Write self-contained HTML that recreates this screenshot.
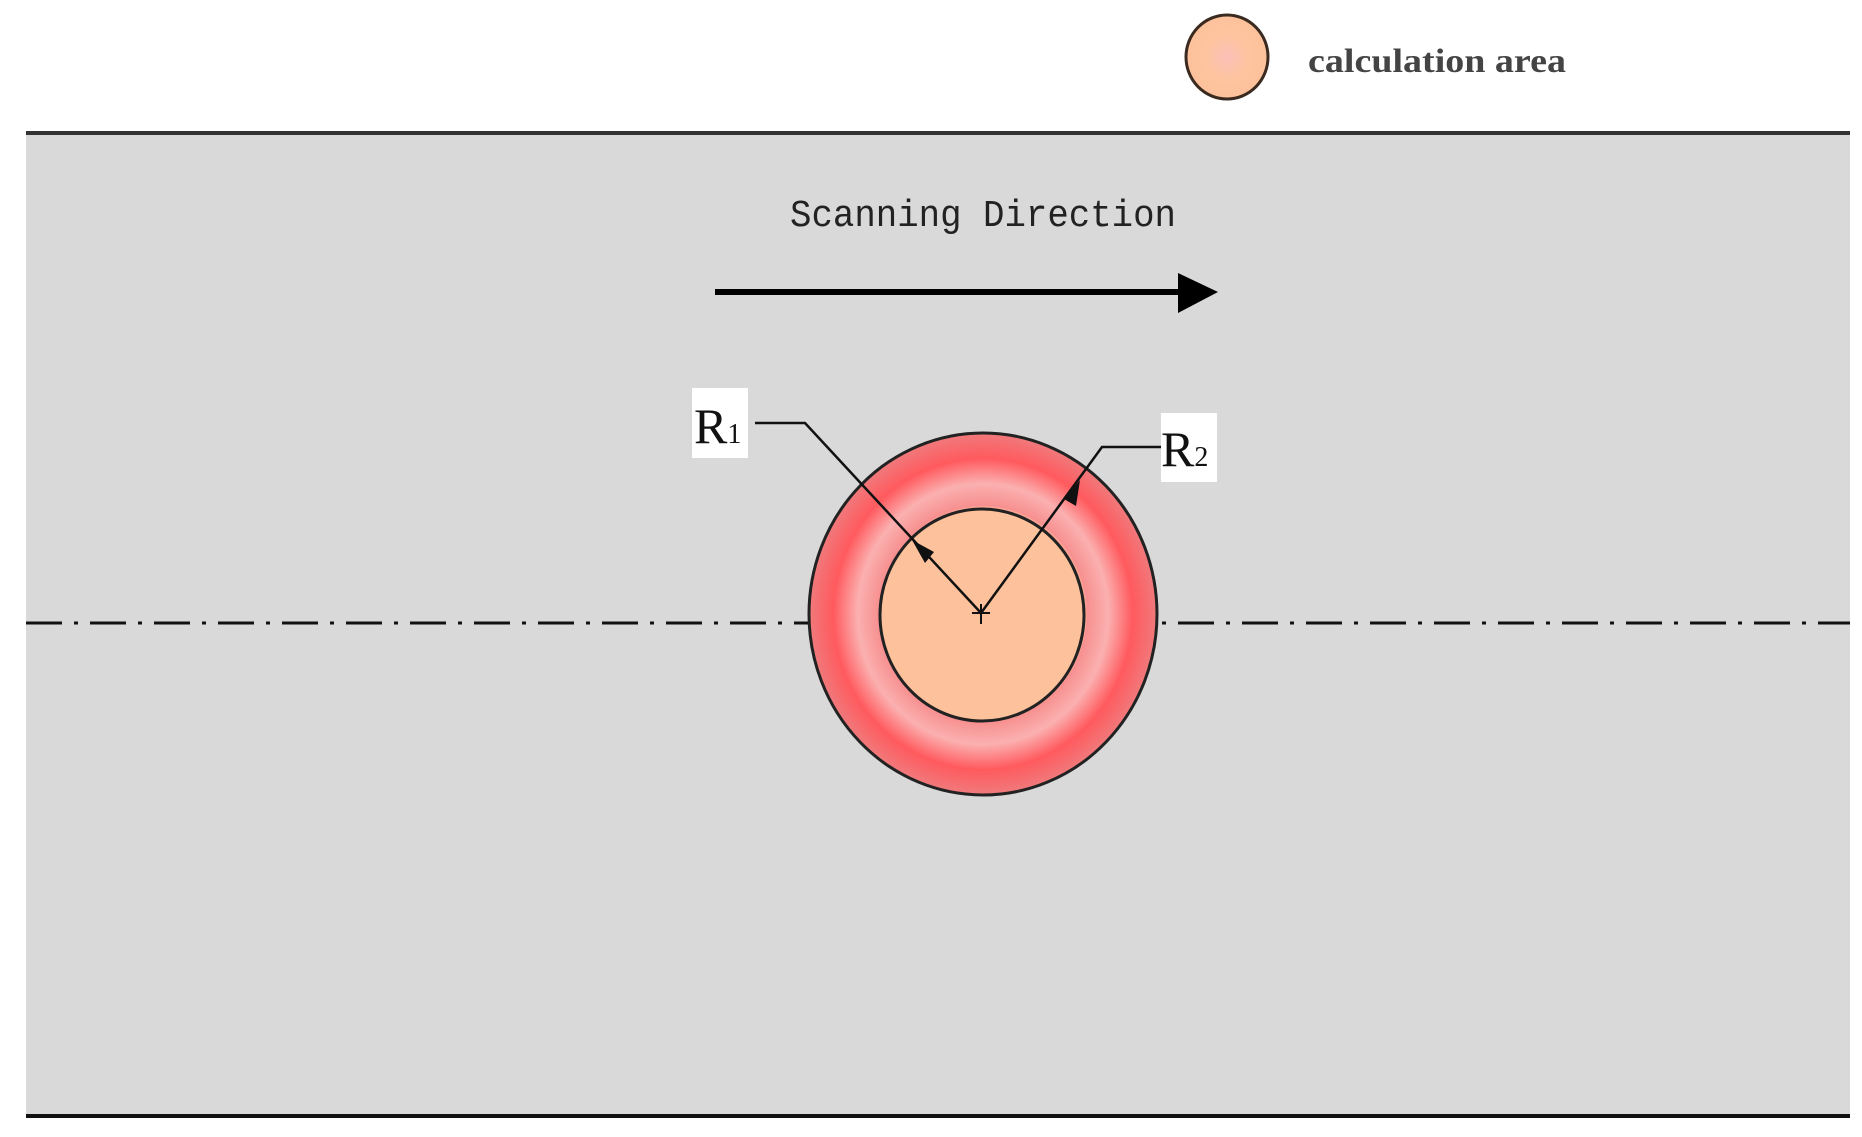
<!DOCTYPE html>
<html><head><meta charset="utf-8"><style>html,body{margin:0;padding:0;background:#fff}svg{display:block}</style></head>
<body>
<svg width="1862" height="1137" viewBox="0 0 1862 1137" xmlns="http://www.w3.org/2000/svg">
<defs>
<radialGradient id="leg" cx="50%" cy="50%" r="50%">
<stop offset="0" stop-color="#fbc0b8"/><stop offset="0.5" stop-color="#fdc4a0"/><stop offset="1" stop-color="#fdc29a"/>
</radialGradient>
<radialGradient id="big" cx="50%" cy="50%" r="50%">
<stop offset="0" stop-color="#fbbcb4"/>
<stop offset="0.25" stop-color="#fdc4a0"/>
<stop offset="0.58" stop-color="#fdc09c"/>
<stop offset="0.6" stop-color="#f79090"/>
<stop offset="0.72" stop-color="#fbb0b0"/>
<stop offset="0.86" stop-color="#ff5a5e"/>
<stop offset="1" stop-color="#f07a7c"/>
</radialGradient>
</defs>
<rect x="26" y="133" width="1824" height="983" fill="#d9d9d9"/>
<line x1="26" y1="133" x2="1850" y2="133" stroke="#333" stroke-width="4"/>
<line x1="26" y1="1116" x2="1850" y2="1116" stroke="#111" stroke-width="4"/>
<ellipse cx="1227" cy="57" rx="41" ry="42" fill="url(#leg)" stroke="#3a2a20" stroke-width="3"/>
<text x="1308" y="72" font-family="Liberation Serif, serif" font-size="34" font-weight="bold" fill="#444" textLength="258" lengthAdjust="spacingAndGlyphs">calculation area</text>
<text x="790" y="226" font-family="Liberation Mono, monospace" font-size="38" fill="#222" textLength="386" lengthAdjust="spacingAndGlyphs">Scanning Direction</text>
<line x1="715" y1="292" x2="1182" y2="292" stroke="#000" stroke-width="6"/>
<polygon points="1178,273 1218,292 1178,313" fill="#000"/>
<line x1="26" y1="623" x2="1850" y2="623" stroke="#111" stroke-width="3" stroke-dasharray="36,12,4,12"/>
<ellipse cx="983" cy="614" rx="174" ry="181" fill="url(#big)" stroke="#222" stroke-width="3"/>
<ellipse cx="982" cy="615" rx="102" ry="106" fill="#fdc29c" stroke="#222" stroke-width="3"/>
<line x1="972" y1="613" x2="990" y2="613" stroke="#111" stroke-width="2"/>
<line x1="981" y1="604" x2="981" y2="624" stroke="#111" stroke-width="2"/>
<rect x="692" y="388" width="56" height="70" fill="#fff"/>
<text x="694" y="443" font-family="Liberation Serif, serif" font-size="50" fill="#111">R<tspan font-size="28">1</tspan></text>
<rect x="1161" y="413" width="56" height="69" fill="#fff"/>
<text x="1161" y="466" font-family="Liberation Serif, serif" font-size="50" fill="#111">R<tspan font-size="28">2</tspan></text>
<polyline points="755,423 805,423 981,613" fill="none" stroke="#111" stroke-width="2.5"/>
<polygon points="912,540 925,563 934,552" fill="#111"/>
<polyline points="1161,447 1102,447 981,613" fill="none" stroke="#111" stroke-width="2.5"/>
<polygon points="1080,480 1064,499 1076,506" fill="#111"/>
</svg>
</body></html>
